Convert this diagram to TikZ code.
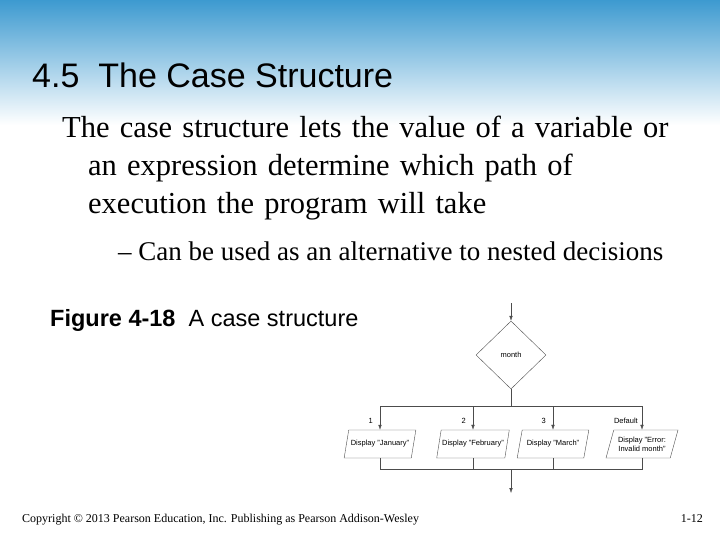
\documentclass[tikz,border=0pt]{standalone}
\usepackage{fontspec}
\setmainfont{Liberation Serif}
\setsansfont{Liberation Sans}
\usetikzlibrary{positioning,shapes.geometric,arrows.meta}
\definecolor{topblue}{HTML}{3D9AD0}

\begin{document}
\begin{tikzpicture}[x=1pt,y=-1pt,
	io/.style={trapezium, trapezium left angle=72, trapezium right angle=108, draw=black!70, thin, minimum width=72pt, minimum height=28pt, inner xsep=1pt, align=center, font=\sffamily\fontsize{7.5}{9}\selectfont, trapezium stretches=true},
	dec/.style={diamond, draw=black!70, thin, minimum width=70pt, minimum height=68pt, inner sep=0pt, font=\sffamily\fontsize{7.5}{9}\selectfont},
	lab/.style={font=\sffamily\fontsize{7.5}{9}\selectfont, inner sep=0pt},
	flow/.style={draw=black!70, thin},
	arr/.style={flow, -{Latex[length=5pt,width=3.5pt]}}
	]

	\useasboundingbox (0,0) rectangle (720,540);
	\shade[top color=topblue, bottom color=white] (0,0) rectangle (720,125);

	\node (title) [anchor=base west, inner sep=0pt, font=\sffamily\fontsize{34}{40}\selectfont] at (32,88) {4.5\ \ The Case Structure};
	\node (body) [anchor=north west, align=left, text width=650pt, inner sep=0pt, font=\fontsize{30.5}{38}\selectfont] at (62,116)
		{The case structure lets the value of a variable or\\
		\hspace*{26pt}an expression determine which path of\\
		\hspace*{26pt}execution the program will take};
	\node (sub) [anchor=base west, inner sep=0pt, font=\fontsize{27}{30}\selectfont] at (118,260) {-- Can be used as an alternative to nested decisions};
	\node (fig) [anchor=base west, inner sep=0pt, font=\sffamily\fontsize{23.5}{26}\selectfont] at (50,326) {\textbf{Figure 4-18}\ \ A case structure};

		\coordinate (entry) at (511,303);
		\node (month) [dec] at (511,355) {month};
		\coordinate (split) at (511,406);
			\node (jan) [io] at (380,444) {Display "January"};
			\node (feb) [io] at (473,444) {Display "February"};
			\node (mar) [io] at (553,444) {Display "March"};
			\node (err) [io] at (642,444) {Display "Error:\\Invalid month"};
		\coordinate (join) at (511,469);
		\coordinate (exit) at (511,493);

		\node (one) [lab, above left=6pt and 7pt of jan.north] {1};
		\node (two) [lab, above left=6pt and 7pt of feb.north] {2};
		\node (three) [lab, above left=6pt and 7pt of mar.north] {3};
		\node (dflt) [lab, above left=6pt and 4pt of err.north] {Default};

	\draw [arr] (entry)--(month.north);
	\draw [flow] (month.south)--(split);

	\draw [arr] (split)-|(jan.north);
	\draw [arr] (split)-|(feb.north);
	\draw [arr] (split)-|(mar.north);
	\draw [arr] (split)-|(err.north);

	\draw [flow] (jan.south)|-(join);
	\draw [flow] (feb.south)|-(join);
	\draw [flow] (mar.south)|-(join);
	\draw [flow] (err.south)|-(join);
	\draw [arr] (join)--(exit);

	\node (copy) [anchor=base west, inner sep=0pt, font=\fontsize{12}{14}\selectfont] at (22,522) {Copyright \textcopyright{} 2013 Pearson Education, Inc. Publishing as Pearson Addison-Wesley};
	\node (page) [anchor=base east, inner sep=0pt, font=\fontsize{12}{14}\selectfont] at (703,522) {1-12};
\end{tikzpicture}
\end{document}
